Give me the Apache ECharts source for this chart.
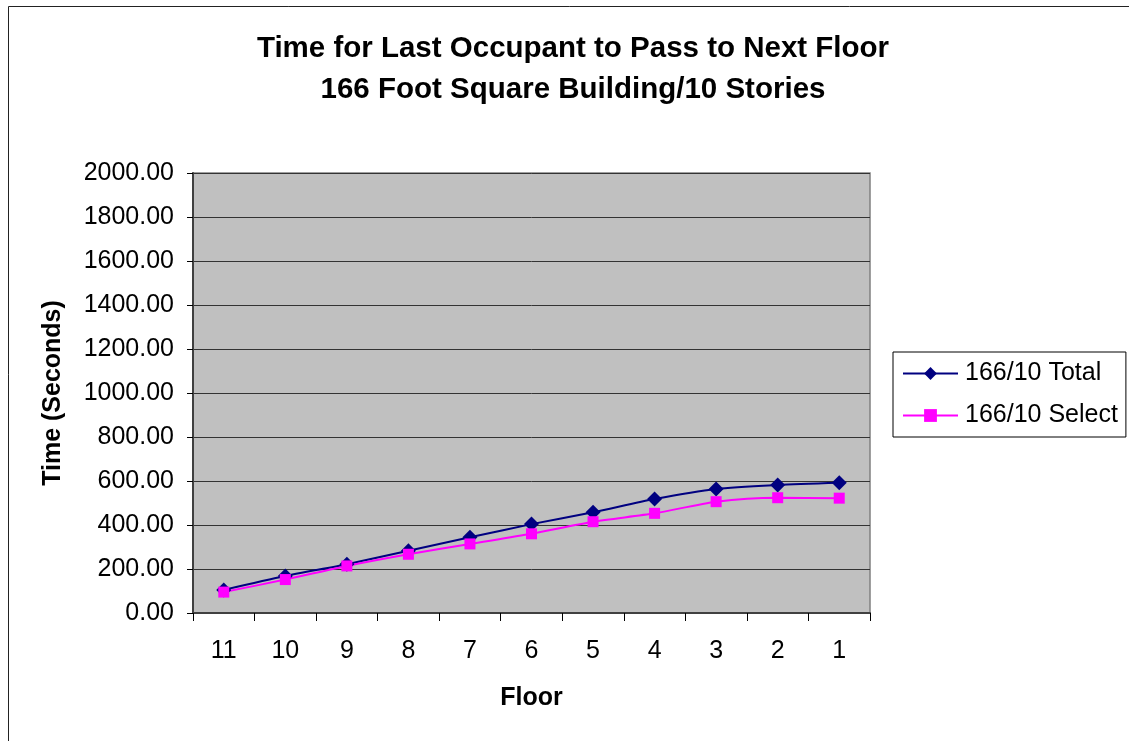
<!DOCTYPE html>
<html>
<head>
<meta charset="utf-8">
<script src="https://cdn.jsdelivr.net/npm/echarts@6/dist/echarts.min.js"></script>
<style>html,body{margin:0;padding:0;background:#fff;}#c{width:1129px;height:741px;}</style>
</head>
<body>
<div id="c"></div>
<script>
const floors = ['11','10','9','8','7','6','5','4','3','2','1'];
const totalTimes = [105, 168, 222, 283, 344, 404, 458, 518, 564, 582, 592];
const selectTimes = [95, 152, 214, 267, 314, 360, 415, 453, 506, 524, 522];
const seriesNames = ['166/10 Total', '166/10 Select'];
const titleLines = ['Time for Last Occupant to Pass to Next Floor', '166 Foot Square Building/10 Stories'];

const FONT = '"Liberation Sans", Arial, sans-serif';
const chart = echarts.init(document.getElementById('c'), null, {renderer: 'canvas'});
chart.setOption({
  backgroundColor: '#ffffff',
  animation: false,
  graphic: [{
    type: 'rect', z: -10, silent: true,
    shape: {x: 8.5, y: 6.5, width: 1300, height: 900},
    style: {fill: 'none', stroke: '#222', lineWidth: 1}
  }],
  title: {
    text: titleLines.join('\n'),
    left: 573, top: 28, textAlign: 'center', padding: 0,
    textStyle: {fontFamily: FONT, fontSize: 29.5, fontWeight: 'bold', color: '#000', lineHeight: 41}
  },
  legend: {
    orient: 'vertical', left: 893, top: 352,
    padding: [9, 8, 9, 9], itemGap: 17,
    itemWidth: 55, itemHeight: 16,
    borderColor: '#000', borderWidth: 1, backgroundColor: '#fff',
    textStyle: {fontFamily: FONT, fontSize: 25, color: '#000', padding: [0, 0, 0, 2]},
    data: seriesNames
  },
  grid: {
    left: 193, right: 259, top: 173, bottom: 128,
    show: true, backgroundColor: '#C0C0C0', borderColor: '#808080', borderWidth: 1.5
  },
  xAxis: {
    type: 'category', data: floors, boundaryGap: true,
    name: 'Floor', nameLocation: 'middle', nameGap: 73,
    nameTextStyle: {fontFamily: FONT, fontSize: 25, fontWeight: 'bold', color: '#000'},
    axisLine: {lineStyle: {color: '#404040', width: 2}},
    axisTick: {show: true, length: 8, alignWithLabel: false, lineStyle: {color: '#000'}},
    axisLabel: {fontFamily: FONT, fontSize: 25, color: '#000', margin: 26}
  },
  yAxis: {
    type: 'value', min: 0, max: 2000, interval: 200,
    name: 'Time (Seconds)', nameLocation: 'middle', nameGap: 127, nameRotate: 90,
    nameTextStyle: {fontFamily: FONT, fontSize: 25, fontWeight: 'bold', color: '#000'},
    axisLine: {show: true, lineStyle: {color: '#404040', width: 2}},
    axisTick: {show: true, length: 6, lineStyle: {color: '#000'}},
    axisLabel: {fontFamily: FONT, fontSize: 25, color: '#000', margin: 19,
      formatter: v => v.toFixed(2)},
    splitLine: {show: true, lineStyle: {color: '#333', width: 1}}
  },
  series: [{
    name: seriesNames[0], type: 'line', data: totalTimes,
    smooth: 0.25, symbol: 'diamond', symbolSize: 15,
    lineStyle: {color: '#000080', width: 2},
    itemStyle: {color: '#000080'}
  }, {
    name: seriesNames[1], type: 'line', data: selectTimes,
    smooth: 0.25, symbol: 'rect', symbolSize: 11,
    lineStyle: {color: '#FF00FF', width: 2},
    itemStyle: {color: '#FF00FF'}
  }]
});
</script>
</body>
</html>
